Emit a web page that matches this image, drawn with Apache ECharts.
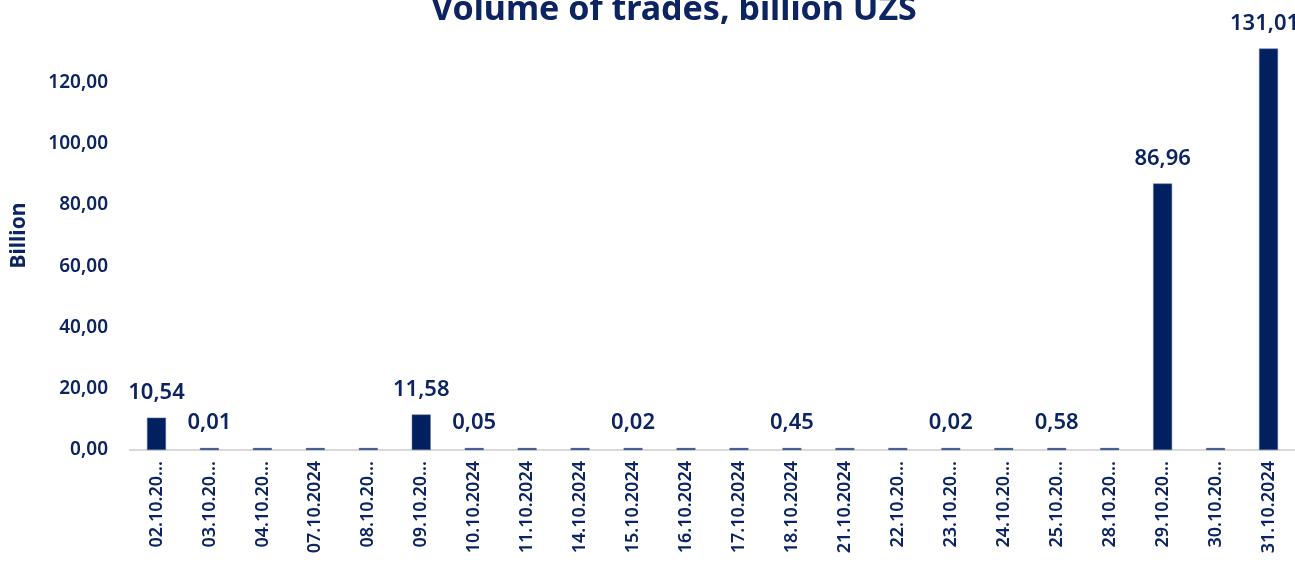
<!DOCTYPE html>
<html>
<head>
<meta charset="utf-8">
<script src="https://cdn.jsdelivr.net/npm/echarts@6/dist/echarts.min.js"></script>
<style>
  html, body { margin: 0; padding: 0; background: #fff; }
  #chart { width: 1295px; height: 562px; }
</style>
</head>
<body>
<div id="chart"></div>
<script>
// trading days
const categories = [
  '02.10.2024', '03.10.2024', '04.10.2024', '07.10.2024', '08.10.2024', '09.10.2024',
  '10.10.2024', '11.10.2024', '14.10.2024', '15.10.2024', '16.10.2024', '17.10.2024',
  '18.10.2024', '21.10.2024', '22.10.2024', '23.10.2024', '24.10.2024', '25.10.2024',
  '28.10.2024', '29.10.2024', '30.10.2024', '31.10.2024'
];
// what the axis actually prints (some got cut off)
const tickLabels = [
  '02.10.20...', '03.10.20...', '04.10.20...', '07.10.2024', '08.10.20...', '09.10.20...',
  '10.10.2024', '11.10.2024', '14.10.2024', '15.10.2024', '16.10.2024', '17.10.2024',
  '18.10.2024', '21.10.2024', '22.10.20...', '23.10.20...', '24.10.20...', '25.10.20...',
  '28.10.20...', '29.10.20...', '30.10.20...', '31.10.2024'
];
// volume, billion UZS
const volumes = [
  10.54, 0.01, 0.0, 0.0, 0.0, 11.58,
  0.05, 0.0, 0.0, 0.02, 0.0, 0.0,
  0.45, 0.0, 0.4, 0.02, 0.5, 0.58,
  0.0, 86.96, 0.0, 131.01
];
// which bars carry a value label
const labelShown = [
  true, true, false, false, false, true,
  true, false, false, true, false, false,
  true, false, false, true, false, true,
  false, true, false, true
];
const yTicks = [0, 20, 40, 60, 80, 100, 120];

const navy = '#0c2461';
const fmt = v => v.toFixed(2).replace('.', ',');

const chart = echarts.init(document.getElementById('chart'));

const option = {
  animation: false,
  textStyle: { fontFamily: 'Noto Sans', color: navy },
  title: {
    text: 'Volume of trades, billion UZS',
    left: 426,
    top: -12,
    textStyle: { fontSize: 34, fontWeight: 'bold', color: navy, fontFamily: 'Noto Sans' }
  },
  grid: { left: 130, right: 0, top: 21, bottom: 112 },
  xAxis: {
    type: 'category',
    data: categories,
    axisTick: { show: false },
    axisLine: { lineStyle: { color: '#d9d9d9', width: 2 } },
    axisLabel: {
      rotate: 90,
      interval: 0,
      margin: 11,
      fontSize: 18,
      fontWeight: 600,
      color: navy,
      formatter: (v, i) => tickLabels[i]
    }
  },
  yAxis: {
    type: 'value',
    min: 0,
    max: 140,
    interval: 20,
    name: 'Billion',
    nameLocation: 'middle',
    nameGap: 100,
    nameTextStyle: { fontSize: 21, fontWeight: 'bold', color: navy },
    splitLine: { show: false },
    axisLine: { show: false },
    axisTick: { show: false },
    axisLabel: {
      margin: 22,
      fontSize: 19,
      fontWeight: 600,
      color: navy,
      formatter: v => (yTicks.indexOf(v) >= 0 ? fmt(v) : '')
    }
  },
  series: [{
    type: 'bar',
    barWidth: 19,
    barMinHeight: 2,
    itemStyle: { color: '#002060', borderColor: '#5f75a5', borderWidth: 0.5 },
    data: volumes.map((v, i) => ({
      value: v,
      label: {
        show: labelShown[i],
        position: 'top',
        distance: 14,
        fontSize: 22,
        fontWeight: 600,
        color: navy,
        // keep the last label inside the canvas
        offset: i === volumes.length - 1 ? [-4, 0] : [0, 0],
        formatter: p => fmt(p.value)
      }
    }))
  }]
};

chart.setOption(option);
</script>
</body>
</html>
